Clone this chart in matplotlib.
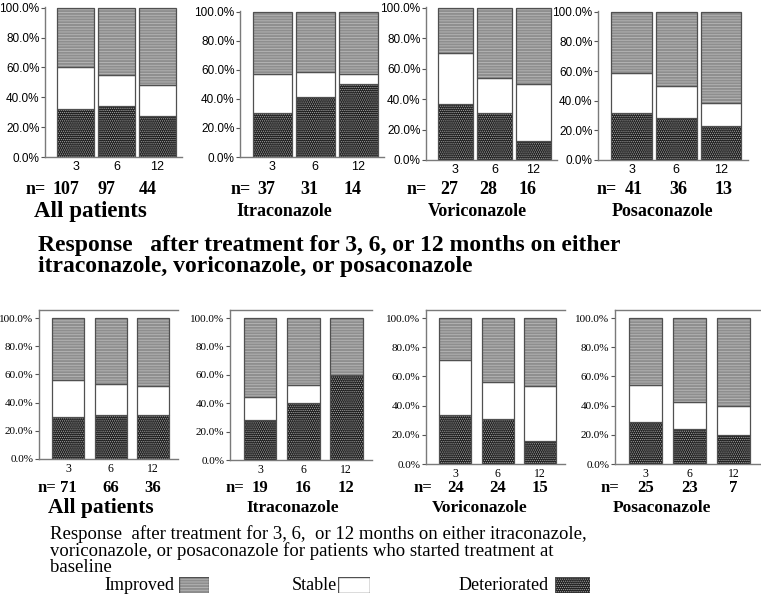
import matplotlib
matplotlib.use("Agg")
import matplotlib.pyplot as plt
import matplotlib.transforms as mtransforms

W, H = 761, 594

months = ["3", "6", "12"]
groups = ["All patients", "Itraconazole", "Voriconazole", "Posaconazole"]

# response after 3, 6, 12 months (percent of patients)
top_n = [[107, 97, 44], [37, 31, 14], [27, 28, 16], [41, 36, 13]]
top_det = [[32, 34, 27.5], [30, 41.5, 50], [37, 31, 12.5], [32, 28, 23]]
top_stable = [[28, 21, 20.5], [27, 17, 7], [33, 23, 37.5], [26.5, 22, 15.5]]
top_improved = [[40, 45, 52], [43, 41.5, 43], [30, 46, 50], [41.5, 50, 61.5]]

# patients who started treatment at baseline
bot_n = [[71, 66, 36], [19, 16, 12], [24, 24, 15], [25, 23, 7]]
bot_det = [[29.5, 31, 31], [28, 40, 60], [33.5, 30.5, 15.5], [29, 24, 20]]
bot_stable = [[26.5, 22, 20.5], [16.5, 13, 0], [37.5, 26, 38], [25, 18.5, 20]]
bot_improved = [[44, 47, 48.5], [55.5, 47, 40], [29, 43.5, 46.5], [46, 57.5, 60]]

top_caption = ["Response   after treatment for 3, 6, or 12 months on either",
               "itraconazole, voriconazole, or posaconazole"]
bot_caption = ["Response  after treatment for 3, 6,  or 12 months on either itraconazole,",
               "voriconazole, or posaconazole for patients who started treatment at",
               "baseline"]

SERIF = "Liberation Serif"
SANS = "Liberation Sans"
plt.rcParams["hatch.linewidth"] = 0.6

IMP = dict(face="#8e8e8e", hatch="------", hcol="#b8b8b8")
STA = dict(face="white", hatch=None, hcol="white")
DET = dict(face="#1e1e1e", hatch="........", hcol="#a8a8a8")

fig = plt.figure(figsize=(W / 100, H / 100), dpi=100)


def px_axes(left, right, y0, ytop):
    return fig.add_axes([left / W, 1 - y0 / H, (right - left) / W, (y0 - ytop) / H])


def ftext(x, y, s, **kw):
    fig.text(x / W, 1 - y / H, s, **kw)


def draw_stack(ax, det, stable, improved, width):
    x = range(len(det))
    bottoms = [0] * len(det)
    for vals, st in ((det, DET), (stable, STA), (improved, IMP)):
        ax.bar(x, vals, width, bottom=bottoms, color=st["face"], hatch=st["hatch"],
               edgecolor=st["hcol"], linewidth=0)
        ax.bar(x, vals, width, bottom=bottoms, fill=False, edgecolor="#505050",
               linewidth=0.9)
        bottoms = [b + v for b, v in zip(bottoms, vals)]


def style_axes(ax, font, size, top_spine):
    ax.spines["right"].set_visible(False)
    ax.spines["top"].set_visible(top_spine)
    for sp in ax.spines.values():
        sp.set_color("#7a7a7a")
        sp.set_linewidth(1.0)
    ax.set_yticks([0, 20, 40, 60, 80, 100])
    ax.set_yticklabels(["0.0%", "20.0%", "40.0%", "60.0%", "80.0%", "100.0%"],
                       fontfamily=font, fontsize=size)
    ax.set_xticks(range(3))
    ax.set_xticklabels(months, fontfamily=font, fontsize=size + 0.5)
    ax.tick_params(axis="y", length=3, width=0.8, color="#555555", pad=1)
    ax.tick_params(axis="x", length=0, pad=3)


def n_labels(ax, counts, y, size, shift):
    tr = mtransforms.blended_transform_factory(ax.transData, fig.transFigure)
    tr = mtransforms.offset_copy(tr, fig=fig, x=shift, y=0, units="dots")
    for j, n in enumerate(counts):
        ax.text(j, 1 - y / H, str(n), transform=tr, ha="center", va="center",
                fontfamily=SERIF, fontweight="bold", fontsize=size)


# ---- top row
top_rects = [(45, 182, 157, 7), (240, 384, 157, 11), (426, 557, 160, 7), (598, 748, 160, 11)]
top_shift = [-10, -6, -6, 2]
top_neq = [36, 241, 417, 607]
top_title_x = [90, 284, 477, 662]
for i, rect in enumerate(top_rects):
    ax = px_axes(*rect)
    draw_stack(ax, top_det[i], top_stable[i], top_improved[i], 0.9)
    ax.set_xlim(-0.75, 2.6)
    ax.set_ylim(0, 100.5)
    style_axes(ax, SANS, 8.5, False)
    n_labels(ax, top_n[i], 190, 13, top_shift[i])
    ftext(top_neq[i], 190, "n=", ha="center", va="center", fontfamily=SERIF,
          fontweight="bold", fontsize=13)
    ftext(top_title_x[i], 212, groups[i], ha="center", va="center", fontfamily=SERIF,
          fontweight="bold", fontsize=16.5 if i == 0 else 13)

for k, line in enumerate(top_caption):
    ftext(38, 245 + 21 * k, line, ha="left", va="center", fontfamily=SERIF,
          fontweight="bold", fontsize=17)

# ---- bottom row
bot_rects = [(39, 178, 459, 310), (230, 372, 460, 310), (426, 565, 464, 310), (615, 760, 464, 310)]
bot_y0 = [459, 460, 464, 464]
bot_neq = [47, 235, 423, 610]
bot_title_x = [101, 293, 480, 662]
for i, rect in enumerate(bot_rects):
    ax = px_axes(*rect)
    draw_stack(ax, bot_det[i], bot_stable[i], bot_improved[i], 0.76)
    ax.set_xlim(-0.7, 2.6)
    y0 = bot_y0[i]
    ax.set_ylim(0, 100 * (y0 - 310) / (y0 - 318))
    style_axes(ax, SERIF, 8, True)
    n_labels(ax, bot_n[i], 488, 12, 0)
    ftext(bot_neq[i], 488, "n=", ha="center", va="center", fontfamily=SERIF,
          fontweight="bold", fontsize=12)
    ftext(bot_title_x[i], 508, groups[i], ha="center", va="center", fontfamily=SERIF,
          fontweight="bold", fontsize=15.5 if i == 0 else 12.5)

for k, line in enumerate(bot_caption):
    ftext(50, 534 + 17 * k, line, ha="left", va="center", fontfamily=SERIF,
          fontsize=13.5)

# ---- legend
legend_items = [("Improved", 174, 179, 209, IMP), ("Stable", 337, 338, 370, STA),
                ("Deteriorated", 549, 555, 590, DET)]
for label, xr, b0, b1, st in legend_items:
    ftext(xr, 586, label, ha="right", va="center", fontfamily=SERIF, fontsize=13)
    lax = px_axes(b0, b1, 593, 577)
    lax.bar([0], [1], 1, color=st["face"], hatch=st["hatch"], edgecolor=st["hcol"], linewidth=0)
    lax.bar([0], [1], 1, fill=False, edgecolor="#505050", linewidth=1)
    lax.set_xlim(-0.5, 0.5)
    lax.set_ylim(0, 1)
    lax.axis("off")

fig.savefig("out.png", dpi=100)
